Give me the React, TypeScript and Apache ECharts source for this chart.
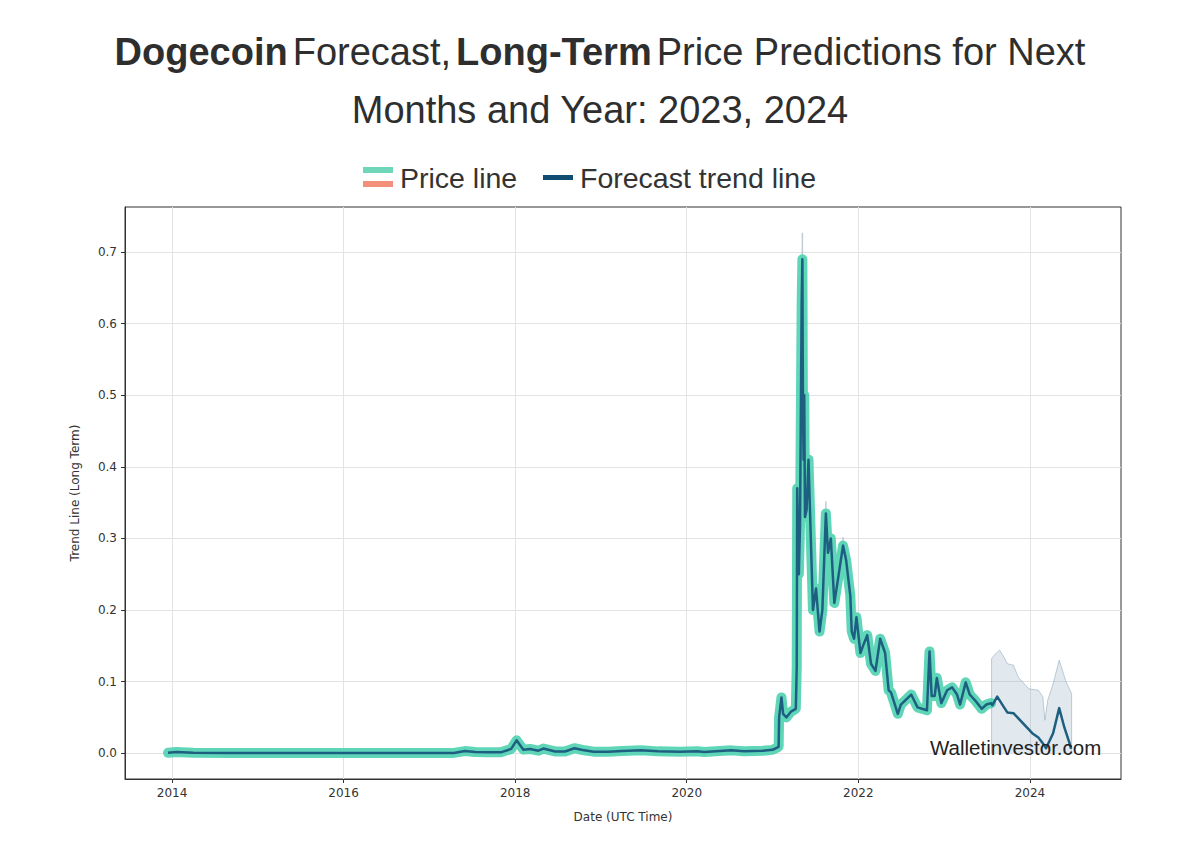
import React, { useEffect, useRef } from "react";
import * as echarts from "echarts";

const titleLine1 = ["Dogecoin", "Forecast,", "Long-Term", "Price Predictions for Next"];
const titleLine2 = "Months and Year: 2023, 2024";
const legendNames = ["Price line", "Forecast trend line"];
const watermark = "Walletinvestor.com";
const xAxisName = "Date (UTC Time)";
const yAxisName = "Trend Line (Long Term)";

const xTickYears = [2014, 2016, 2018, 2020, 2022, 2024];
const yTickValues = [0, 0.1, 0.2, 0.3, 0.4, 0.5, 0.6, 0.7];

// Historical price
const priceDates = [
  "2013-12-15", "2014-01-20", "2014-04-01", "2014-09-01", "2015-03-01", "2015-09-01",
  "2016-03-01", "2016-09-01", "2017-01-01", "2017-04-15", "2017-06-01", "2017-07-15",
  "2017-09-01", "2017-11-01", "2017-12-15", "2018-01-07", "2018-02-05", "2018-03-05",
  "2018-04-10", "2018-05-01", "2018-06-20", "2018-08-01", "2018-09-10", "2018-10-15",
  "2018-12-01", "2019-02-01", "2019-04-01", "2019-06-20", "2019-09-01", "2019-12-01",
  "2020-02-15", "2020-03-15", "2020-07-10", "2020-09-01", "2020-11-20", "2021-01-01",
  "2021-01-27", "2021-01-29", "2021-02-08", "2021-02-15", "2021-03-01", "2021-03-20",
  "2021-04-10", "2021-04-14", "2021-04-16", "2021-04-23", "2021-04-28", "2021-05-05",
  "2021-05-08", "2021-05-10", "2021-05-13", "2021-05-16", "2021-05-19", "2021-05-26",
  "2021-06-03", "2021-06-12", "2021-06-22", "2021-07-05", "2021-07-20", "2021-08-01",
  "2021-08-16", "2021-08-25", "2021-09-06", "2021-09-21", "2021-10-05", "2021-10-28",
  "2021-11-10", "2021-11-28", "2021-12-04", "2021-12-14", "2021-12-24", "2022-01-10",
  "2022-01-21", "2022-02-08", "2022-02-24", "2022-03-15", "2022-04-04", "2022-04-25",
  "2022-05-10", "2022-05-20", "2022-06-18", "2022-07-01", "2022-08-14", "2022-09-10",
  "2022-10-20", "2022-10-31", "2022-11-09", "2022-11-22", "2022-12-01", "2022-12-20",
  "2023-01-14", "2023-02-04", "2023-02-25", "2023-03-10", "2023-04-03", "2023-04-20",
  "2023-05-15", "2023-06-10", "2023-06-30", "2023-07-20",
];
const priceValues = [
  0.0006, 0.0018, 0.0006, 0.0003, 0.0002, 0.0002,
  0.0003, 0.0002, 0.0002, 0.0004, 0.003, 0.0018,
  0.0015, 0.0012, 0.006, 0.018, 0.005, 0.006,
  0.0035, 0.0065, 0.0025, 0.0024, 0.007, 0.0045,
  0.0022, 0.002, 0.003, 0.004, 0.0026, 0.0022,
  0.0028, 0.0016, 0.004, 0.0028, 0.0035, 0.0047,
  0.009, 0.05, 0.078, 0.055, 0.05, 0.058,
  0.062, 0.12, 0.37, 0.25, 0.32, 0.63,
  0.69, 0.51, 0.41, 0.5, 0.33, 0.34,
  0.41, 0.31, 0.2, 0.23, 0.17, 0.2,
  0.335, 0.28, 0.3, 0.21, 0.24, 0.29,
  0.27, 0.22, 0.17, 0.16, 0.19, 0.14,
  0.15, 0.165, 0.125, 0.115, 0.16, 0.14,
  0.088, 0.085, 0.055, 0.068, 0.082, 0.064,
  0.06, 0.142, 0.08, 0.08, 0.105, 0.07,
  0.088, 0.092, 0.082, 0.068, 0.099, 0.082,
  0.073, 0.062, 0.068, 0.07,
];

// Forecast trend line
const forecastDates = [
  "2023-07-25", "2023-08-15", "2023-09-13", "2023-09-27", "2023-10-23", "2023-12-02",
  "2024-01-11", "2024-02-06", "2024-02-25", "2024-03-10", "2024-04-09", "2024-05-05",
  "2024-05-27", "2024-06-18", "2024-06-25",
];
const forecastValues = [
  0.067, 0.079, 0.064, 0.057, 0.056, 0.042,
  0.028, 0.022, 0.014, 0.007, 0.028, 0.063,
  0.036, 0.014, 0.006,
];

// Forecast confidence band (upper edge, lower edge at 0)
const bandDates = [
  "2023-07-22", "2023-08-08", "2023-08-25", "2023-09-13", "2023-09-27", "2023-10-23",
  "2023-11-13", "2023-12-27", "2024-02-06", "2024-02-25", "2024-03-05", "2024-03-17",
  "2024-04-09", "2024-05-05", "2024-06-03", "2024-06-27",
];
const bandUpper = [
  0.132, 0.139, 0.144, 0.134, 0.125, 0.123,
  0.106, 0.09, 0.088, 0.079, 0.046, 0.074,
  0.097, 0.13, 0.1, 0.083,
];

// Historical band whiskers visible above peaks
const whiskerDates = ["2021-05-08", "2021-08-16", "2021-10-28"];
const whiskerLow = [0.69, 0.335, 0.29];
const whiskerHigh = [0.727, 0.352, 0.302];

// date string -> fractional year
const fy = (d: string) => {
  const t = Date.parse(d + "T00:00:00Z");
  const y = new Date(t).getUTCFullYear();
  const s = Date.UTC(y, 0, 1);
  const e = Date.UTC(y + 1, 0, 1);
  return y + (t - s) / (e - s);
};

export default function App() {
  const ref = useRef<HTMLDivElement>(null);
  useEffect(() => {
    if (!ref.current) return;
    const chart = echarts.init(ref.current, undefined, { renderer: "svg" });

    const priceData = priceDates.map((d, i) => [fy(d), priceValues[i]]);
    const trendData = priceData.concat(forecastDates.map((d, i) => [fy(d), forecastValues[i]]));
    const bandData: any[] = [[fy(bandDates[0]), 0]].concat(
      bandDates.map((d, i) => [fy(d), bandUpper[i]])
    );
    bandData.push([fy(bandDates[bandDates.length - 1]), 0]);
    const whiskerData: any[] = [];
    whiskerDates.forEach((d, i) => {
      whiskerData.push([fy(d), whiskerLow[i]]);
      whiskerData.push([fy(d), whiskerHigh[i]]);
      whiskerData.push([fy(d) + 0.003, "-"]);
    });

    const font = "'Liberation Sans', Arial, Helvetica, sans-serif";
    const tickFont = "'DejaVu Sans', sans-serif";

    chart.setOption({
      animation: false,
      backgroundColor: "#ffffff",
      title: {
        left: "center",
        top: 23,
        padding: 0,
        text:
          `{b|${titleLine1[0]}} {n|${titleLine1[1]}} {b|${titleLine1[2]}} {n|${titleLine1[3]}}\n{n|${titleLine2}}`,
        textStyle: {
          rich: {
            b: { fontFamily: font, fontSize: 38, fontWeight: "bold", color: "#2e2e2e", lineHeight: 58 },
            n: { fontFamily: font, fontSize: 38, fontWeight: "normal", color: "#2e2e2e", lineHeight: 58 },
          },
        },
      },
      grid: {
        left: 125,
        top: 207,
        right: 79,
        bottom: 63,
        show: true,
        borderColor: "#333333",
        borderWidth: 1,
        backgroundColor: "#ffffff",
      },
      xAxis: {
        type: "value",
        min: 2013.452,
        max: 2025.062,
        name: xAxisName,
        nameLocation: "middle",
        nameGap: 32,
        nameTextStyle: { fontFamily: tickFont, fontSize: 12, color: "#333333" },
        axisLine: { show: true, onZero: false, lineStyle: { color: "#333333", width: 1 } },
        axisTick: {
          show: true,
          inside: false,
          length: 4,
          lineStyle: { color: "#333333" },
          customValues: xTickYears,
        },
        axisLabel: {
          fontFamily: tickFont,
          fontSize: 12,
          color: "#333333",
          margin: 8,
          customValues: xTickYears,
          formatter: (v: number) => String(Math.round(v)),
        },
        splitLine: { show: true, lineStyle: { color: "#e3e3e3", width: 1 } },
      },
      yAxis: {
        type: "value",
        min: -0.036,
        max: 0.763,
        name: yAxisName,
        nameLocation: "middle",
        nameGap: 44,
        nameRotate: 90,
        nameTextStyle: { fontFamily: tickFont, fontSize: 12, color: "#333333" },
        axisLine: { show: true, onZero: false, lineStyle: { color: "#333333", width: 1 } },
        axisTick: {
          show: true,
          inside: false,
          length: 4,
          lineStyle: { color: "#333333" },
          customValues: yTickValues,
        },
        axisLabel: {
          fontFamily: tickFont,
          fontSize: 12,
          color: "#333333",
          margin: 8,
          customValues: yTickValues,
          formatter: (v: number) => v.toFixed(1),
        },
        splitLine: { show: true, lineStyle: { color: "#e3e3e3", width: 1 } },
      },
      series: [
        {
          name: "band",
          type: "line",
          data: bandData,
          symbol: "none",
          lineStyle: { color: "rgba(120,150,175,0.45)", width: 1 },
          areaStyle: { color: "rgba(130,160,185,0.35)", origin: 0 },
          z: 1,
        },
        {
          name: "whiskers",
          type: "line",
          data: whiskerData,
          symbol: "none",
          connectNulls: false,
          lineStyle: { color: "rgba(150,170,190,0.6)", width: 1.5 },
          z: 2,
        },
        {
          name: legendNames[0],
          type: "line",
          data: priceData,
          symbol: "none",
          lineStyle: { color: "rgba(78,210,176,0.9)", width: 10, join: "round", cap: "round" },
          z: 3,
        },
        {
          name: legendNames[1],
          type: "line",
          data: trendData,
          symbol: "none",
          lineStyle: { color: "#1d5f80", width: 2.5, join: "round" },
          z: 4,
        },
      ],
      graphic: [
        { type: "rect", left: 363, top: 167, shape: { width: 30, height: 6 }, style: { fill: "#6fd6b9" } },
        { type: "rect", left: 363, top: 181, shape: { width: 30, height: 6 }, style: { fill: "#f3907b" } },
        {
          type: "text",
          left: 400,
          top: 163,
          style: { text: legendNames[0], font: `28.5px ${font}`, fill: "#333333" },
        },
        { type: "rect", left: 543, top: 175, shape: { width: 30, height: 5 }, style: { fill: "#114d70" } },
        {
          type: "text",
          left: 580,
          top: 163,
          style: { text: legendNames[1], font: `28.5px ${font}`, fill: "#333333" },
        },
        {
          type: "text",
          left: 930,
          top: 737,
          z: 10,
          style: { text: watermark, font: `20.5px ${font}`, fill: "#222222" },
        },
      ],
    });
    return () => chart.dispose();
  }, []);
  return (
    <div
      ref={ref}
      style={{ position: "absolute", left: 0, top: 0, width: 1200, height: 842 }}
    />
  );
}
